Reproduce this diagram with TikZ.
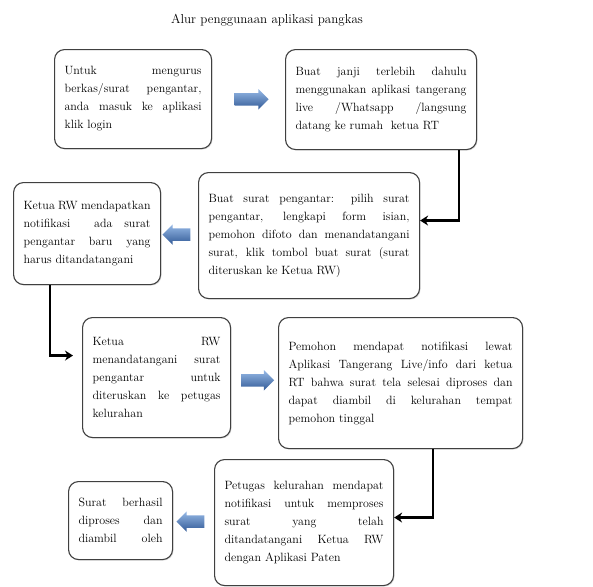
\documentclass[tikz,border=0pt]{standalone}
\usetikzlibrary{arrows.meta,positioning,calc,shapes.arrows,shadows}
\definecolor{arrtop}{RGB}{150,185,230}
\definecolor{arrmid}{RGB}{79,129,189}
\definecolor{arrbot}{RGB}{50,90,150}
\hyphenpenalty=10000
\exhyphenpenalty=10000
\begin{document}
\begin{tikzpicture}[x=1pt, y=-1pt,
  font=\fontsize{12}{18}\selectfont,
  box/.style={draw=black!75, line width=1.1pt, rounded corners=10pt, fill=white,
    align=justify, inner xsep=10pt, inner ysep=4pt, anchor=north west,
    drop shadow={shadow xshift=1pt, shadow yshift=-1pt, fill=black!25}},
  blk/.style={single arrow, draw=none, inner xsep=0pt, inner ysep=6pt,
    single arrow head extend=4pt, minimum height=32pt,
    top color=arrtop, middle color=arrmid, bottom color=arrbot},
  conn/.style={line width=2.4pt, -{Stealth[length=8pt,width=10pt]}}]

\useasboundingbox (0,0) rectangle (593,586);

\node[font=\fontsize{13}{16}\selectfont] (title) at (267,20) {Alur penggunaan aplikasi pangkas};

% =================== row 1 ===============================================
\node[box, text width=137pt, minimum height=99pt] (login) at (54,49)
  {Untuk mengurus\linebreak berkas/surat pengantar,\linebreak
   anda masuk ke aplikasi\linebreak klik login};
\node[box, text width=171pt, minimum height=100pt] (janji) at (285,49)
  {Buat janji terlebih dahulu\linebreak menggunakan aplikasi tangerang\linebreak
   live /Whatsapp /langsung\linebreak datang ke rumah\ \ ketua RT};

% =================== row 2 ===============================================
\node[box, text width=201pt, minimum height=126pt] (surat) at (198,172)
  {Buat surat pengantar: pilih surat\linebreak pengantar, lengkapi form isian,\linebreak
   pemohon difoto dan menandatangani\linebreak surat, klik tombol buat surat (surat\linebreak
   diteruskan ke Ketua RW)};
\node[box, text width=127pt, minimum height=102pt] (notifrw) at (13,182)
  {Ketua RW mendapatkan\linebreak notifikasi\ \ ada surat\linebreak
   pengantar baru yang\linebreak harus ditandatangani};

% =================== row 3 ===============================================
\node[box, text width=128pt, minimum height=120pt] (ttdrw) at (82,317)
  {Ketua RW\linebreak menandatangani surat\linebreak pengantar untuk\linebreak
   diteruskan ke petugas\linebreak kelurahan};
\node[box, text width=224pt, minimum height=131pt] (notifrt) at (278,317)
  {Pemohon mendapat notifikasi lewat\linebreak Aplikasi Tangerang Live/info dari ketua\linebreak
   RT bahwa surat tela selesai diproses dan\linebreak dapat diambil di kelurahan tempat\linebreak
   pemohon tinggal};

% =================== row 4 ===============================================
\node[box, text width=159pt, minimum height=126pt] (petugas) at (214,459)
  {Petugas kelurahan mendapat\linebreak notifikasi untuk memproses\linebreak
   surat yang telah\linebreak ditandatangani Ketua RW\linebreak dengan Aplikasi Paten};
\node[box, text width=84pt, minimum height=78pt] (selesai) at (68,481)
  {Surat berhasil\linebreak diproses dan\linebreak diambil\hfill oleh};

% block arrows between neighbours
\node[blk, minimum height=34pt] (a1) at ($(login.east)!0.5!(janji.west)$) {};
\node[blk, minimum height=28pt, shape border rotate=180] (a2)
  at ($(notifrw.east)!0.5!(surat.west)$) {};
\node[blk, minimum height=33pt] (a3) at ($(ttdrw.east)!0.5!(notifrt.west)$) {};
\node[blk, minimum height=28pt, shape border rotate=180] (a4)
  at ($(selesai.east)!0.5!(petugas.west)$) {};

% elbow connectors
\draw[conn] ([xshift=-18pt]janji.south east) |- ([yshift=15pt]surat.east);
\draw[conn, shorten >=9pt] ([xshift=37pt]notifrw.south west) |- ([yshift=22pt]ttdrw.west);
\draw[conn] ([xshift=-90pt]notifrt.south east) |- ([yshift=5pt]petugas.east);
\end{tikzpicture}
\end{document}
